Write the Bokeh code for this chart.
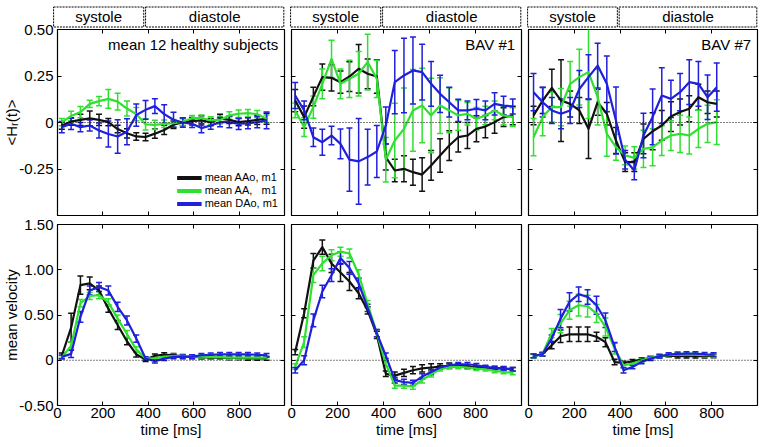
from bokeh.plotting import figure
from bokeh.layouts import row, column
from bokeh.models import (Range1d, FixedTicker, CustomJSTickFormatter, LinearAxis,
                          Whisker, TeeHead, ColumnDataSource, Span, Label,
                          Legend, LegendItem)
from bokeh.core.properties import value
from bokeh.embed import file_html
from bokeh.resources import INLINE
import numpy as np

FONT = "Liberation Sans"
C_AAO = "#111111"
C_AA = "#30e030"
C_DAO = "#1f1fdc"
COLORS = [C_AAO, C_AA, C_DAO]

series_names = ["mean AAo, m1", "mean AA,\u00a0\u00a0 m1", "mean DAo, m1"]
panel_titles = ["mean 12 healthy subjects", "BAV #1", "BAV #7"]
phases = ["systole", "diastole"]
phase_start = [-4, 396]
phase_end = [388, 997]
x_ticks = [0, 200, 400, 600, 800]
hel_ticks = [-0.25, 0, 0.25, 0.5]
vel_ticks = [-0.5, 0, 0.5, 1.0, 1.5]

# ---------- healthy (mean of 12) ----------
t_h = [19, 60, 101, 142, 183, 224, 265, 306, 347, 388, 429, 470, 511, 552, 593, 634, 675, 716, 757, 798, 839, 880, 921]
h_aao = [-0.016, 0.005, 0.014, 0.022, 0.014, 0.002, -0.035, -0.058, -0.075, -0.078, -0.06, -0.04, -0.012, 0.002, 0.007, 0.011, 0.002, 0.02, 0.014, 0.002, 0.007, 0.014, 0.02]
h_aa = [0.002, 0.035, 0.056, 0.1, 0.115, 0.127, 0.112, 0.075, 0.045, -0.01, -0.013, -0.007, -0.004, 0.005, 0.023, 0.025, 0.011, 0.014, 0.038, 0.047, 0.05, 0.045, 0.02]
h_dao = [-0.025, -0.007, -0.025, -0.016, -0.043, -0.062, -0.075, -0.05, 0.04, 0.068, 0.088, 0.045, 0.015, 0.0, -0.007, -0.03, -0.016, 0.002, 0.002, -0.007, -0.004, 0.002, 0.011]
h_aao_e = [0.02, 0.02, 0.03, 0.04, 0.03, 0.02, 0.02, 0.025, 0.02, 0.02, 0.025, 0.025, 0.02, 0.02, 0.02, 0.025, 0.02, 0.025, 0.02, 0.02, 0.02, 0.025, 0.03]
h_aa_e = [0.02, 0.025, 0.03, 0.02, 0.025, 0.05, 0.045, 0.04, 0.035, 0.03, 0.025, 0.02, 0.02, 0.02, 0.015, 0.015, 0.02, 0.02, 0.02, 0.02, 0.02, 0.02, 0.02]
h_dao_e = [0.03, 0.03, 0.025, 0.03, 0.04, 0.07, 0.09, 0.07, 0.06, 0.05, 0.04, 0.05, 0.04, 0.025, 0.02, 0.025, 0.02, 0.025, 0.03, 0.03, 0.03, 0.03, 0.045]

hv_aao = [0.05, 0.36, 0.83, 0.85, 0.77, 0.57, 0.39, 0.21, 0.066, 0.007, 0.05, 0.062, 0.055, 0.044, 0.037, 0.033, 0.03, 0.03, 0.025, 0.025, 0.02, 0.02, 0.02]
hv_aa = [0.03, 0.16, 0.63, 0.71, 0.72, 0.64, 0.46, 0.29, 0.12, 0.02, 0.02, 0.04, 0.045, 0.04, 0.04, 0.04, 0.035, 0.035, 0.03, 0.03, 0.03, 0.03, 0.03]
hv_dao = [0.037, 0.07, 0.48, 0.77, 0.81, 0.77, 0.59, 0.44, 0.24, 0.02, -0.01, 0.018, 0.037, 0.037, 0.04, 0.055, 0.06, 0.066, 0.066, 0.066, 0.066, 0.06, 0.055]
hv_aao_e = [0.03, 0.16, 0.1, 0.07, 0.05, 0.04, 0.05, 0.04, 0.03, 0.02, 0.02, 0.02, 0.02, 0.02, 0.02, 0.02, 0.02, 0.02, 0.02, 0.02, 0.02, 0.02, 0.02]
hv_aa_e = [0.02, 0.04, 0.04, 0.04, 0.04, 0.04, 0.04, 0.04, 0.03, 0.02, 0.02, 0.02, 0.02, 0.02, 0.02, 0.02, 0.02, 0.02, 0.02, 0.02, 0.02, 0.02, 0.02]
hv_dao_e = [0.02, 0.04, 0.06, 0.05, 0.05, 0.05, 0.05, 0.05, 0.04, 0.02, 0.02, 0.02, 0.02, 0.02, 0.02, 0.02, 0.02, 0.02, 0.02, 0.02, 0.02, 0.02, 0.02]

# ---------- BAV #1 ----------
t_b1 = [16, 55, 95, 134, 174, 213, 252, 292, 331, 371, 410, 449, 489, 528, 568, 607, 646, 686, 725, 765, 804, 843, 883, 922, 962]
b1_aao = [0.118, 0.029, 0.14, 0.244, 0.24, 0.217, 0.247, 0.289, 0.262, 0.247, -0.186, -0.258, -0.249, -0.267, -0.28, -0.231, -0.177, -0.124, -0.079, -0.07, -0.034, -0.022, 0.002, 0.029, 0.038]
b1_aa = [0.065, -0.025, 0.083, 0.208, 0.342, 0.208, 0.235, 0.262, 0.325, 0.235, -0.2, -0.097, -0.034, 0.065, 0.091, 0.038, 0.091, 0.065, 0.038, 0.047, 0.02, 0.038, 0.065, 0.038, 0.029]
b1_dao = [0.145, 0.065, -0.079, -0.106, -0.07, -0.115, -0.2, -0.209, -0.186, -0.156, -0.016, 0.217, 0.253, 0.28, 0.271, 0.208, 0.154, 0.109, 0.065, 0.065, 0.074, 0.065, 0.1, 0.091, 0.086]
b1_aao_e = [0.06, 0.06, 0.05, 0.07, 0.07, 0.06, 0.08, 0.13, 0.08, 0.09, 0.07, 0.06, 0.07, 0.07, 0.09, 0.08, 0.09, 0.08, 0.08, 0.07, 0.07, 0.06, 0.06, 0.05, 0.05]
b1_aa_e = [0.04, 0.05, 0.06, 0.08, 0.1, 0.08, 0.1, 0.12, 0.15, 0.1, 0.12, 0.2, 0.22, 0.22, 0.2, 0.2, 0.15, 0.12, 0.08, 0.06, 0.06, 0.05, 0.05, 0.05, 0.05]
b1_dao_e = [0.07, 0.05, 0.05, 0.07, 0.05, 0.08, 0.17, 0.23, 0.15, 0.14, 0.1, 0.17, 0.2, 0.18, 0.15, 0.12, 0.1, 0.08, 0.06, 0.05, 0.05, 0.05, 0.06, 0.05, 0.04]

b1v_aao = [0.09, 0.52, 1.1, 1.25, 1.07, 0.97, 0.87, 0.74, 0.55, 0.28, -0.15, -0.17, -0.14, -0.11, -0.09, -0.08, -0.07, -0.06, -0.06, -0.07, -0.08, -0.08, -0.09, -0.09, -0.1]
b1v_aa = [-0.07, 0.2, 0.94, 1.07, 1.16, 1.2, 1.18, 0.95, 0.62, 0.3, -0.04, -0.28, -0.28, -0.29, -0.22, -0.155, -0.1, -0.074, -0.074, -0.08, -0.092, -0.1, -0.118, -0.13, -0.14]
b1v_dao = [-0.11, 0.0, 0.44, 0.76, 0.94, 1.13, 1.02, 0.85, 0.58, 0.3, 0.05, -0.22, -0.24, -0.25, -0.18, -0.13, -0.08, -0.055, -0.044, -0.044, -0.055, -0.074, -0.085, -0.092, -0.1]
b1v_aao_e = [0.03, 0.05, 0.08, 0.08, 0.1, 0.1, 0.1, 0.06, 0.04, 0.04, 0.03, 0.04, 0.04, 0.04, 0.04, 0.04, 0.03, 0.03, 0.02, 0.02, 0.02, 0.02, 0.02, 0.02, 0.02]
b1v_aa_e = [0.03, 0.06, 0.08, 0.08, 0.06, 0.05, 0.05, 0.05, 0.04, 0.04, 0.03, 0.03, 0.03, 0.03, 0.03, 0.03, 0.02, 0.02, 0.02, 0.02, 0.02, 0.02, 0.02, 0.02, 0.02]
b1v_dao_e = [0.03, 0.05, 0.07, 0.07, 0.07, 0.07, 0.07, 0.06, 0.04, 0.04, 0.03, 0.03, 0.03, 0.03, 0.03, 0.03, 0.02, 0.02, 0.02, 0.02, 0.02, 0.02, 0.02, 0.02, 0.02]

# ---------- BAV #7 ----------
t_b7 = [22, 62, 102, 142, 182, 222, 262, 302, 342, 382, 422, 462, 502, 542, 582, 622, 662, 702, 742, 782, 822]
b7_aao = [0.038, 0.118, 0.186, 0.118, 0.1, 0.065, -0.034, 0.109, 0.047, -0.097, -0.213, -0.213, -0.088, -0.047, -0.016, 0.032, 0.056, 0.074, 0.136, 0.109, 0.1]
b7_aa = [-0.079, 0.029, 0.083, 0.083, 0.208, 0.244, 0.271, 0.136, -0.061, -0.133, -0.177, -0.19, -0.142, -0.133, -0.097, -0.07, -0.061, -0.07, -0.034, -0.007, 0.002]
b7_dao = [0.163, 0.109, 0.065, 0.047, 0.065, 0.18, 0.244, 0.306, 0.208, 0.011, -0.2, -0.258, -0.07, 0.03, 0.145, 0.127, 0.163, 0.217, 0.208, 0.136, 0.19]
b7_aao_e = [0.05, 0.07, 0.1, 0.22, 0.07, 0.07, 0.16, 0.07, 0.06, 0.07, 0.05, 0.05, 0.08, 0.1, 0.08, 0.08, 0.07, 0.07, 0.07, 0.06, 0.07]
b7_aa_e = [0.1, 0.1, 0.08, 0.1, 0.12, 0.15, 0.25, 0.15, 0.12, 0.07, 0.05, 0.06, 0.1, 0.1, 0.08, 0.08, 0.1, 0.1, 0.1, 0.1, 0.12]
b7_dao_e = [0.1, 0.08, 0.07, 0.08, 0.07, 0.1, 0.12, 0.12, 0.15, 0.18, 0.05, 0.05, 0.12, 0.15, 0.15, 0.1, 0.1, 0.12, 0.12, 0.12, 0.13]

t_b7v = [22, 61, 101, 140, 179, 219, 258, 297, 336, 376, 415, 454, 494, 533, 572, 612, 651, 690, 729, 769, 808]
b7v_aao = [0.048, 0.066, 0.166, 0.265, 0.287, 0.287, 0.287, 0.26, 0.2, -0.02, -0.03, -0.011, 0.007, 0.026, 0.044, 0.052, 0.044, 0.044, 0.044, 0.044, 0.048]
b7v_aa = [0.044, 0.066, 0.3, 0.405, 0.552, 0.608, 0.597, 0.516, 0.368, 0.129, -0.055, -0.037, 0.0, 0.03, 0.044, 0.055, 0.063, 0.063, 0.063, 0.055, 0.055]
b7v_dao = [0.048, 0.066, 0.24, 0.46, 0.645, 0.729, 0.7, 0.608, 0.442, 0.147, -0.11, -0.074, -0.018, 0.018, 0.044, 0.063, 0.07, 0.074, 0.074, 0.066, 0.063]
b7v_aao_e = [0.02, 0.02, 0.04, 0.07, 0.08, 0.08, 0.08, 0.05, 0.05, 0.03, 0.02, 0.02, 0.02, 0.02, 0.02, 0.02, 0.02, 0.02, 0.02, 0.02, 0.02]
b7v_aa_e = [0.02, 0.02, 0.05, 0.1, 0.1, 0.12, 0.12, 0.1, 0.1, 0.06, 0.03, 0.02, 0.02, 0.02, 0.02, 0.02, 0.02, 0.02, 0.02, 0.02, 0.02]
b7v_dao_e = [0.02, 0.02, 0.04, 0.1, 0.1, 0.08, 0.08, 0.1, 0.08, 0.05, 0.03, 0.02, 0.02, 0.02, 0.02, 0.02, 0.02, 0.02, 0.02, 0.02, 0.02]

# column geometry: (left border, frame width, right border)
COLS = [(54, 230, 3), (4, 230, 3), (4, 229, 5)]
X_END = 1000.0


def style_axis(ax, ticks, labels):
    ax.ticker = FixedTicker(ticks=ticks)
    ax.axis_line_color = None
    ax.major_tick_in = 4
    ax.major_tick_out = 0
    ax.major_tick_line_color = "black"
    ax.minor_tick_line_color = None
    if labels:
        ax.major_label_text_font = FONT
        ax.major_label_text_font_size = "15px"
        ax.major_label_text_color = "black"
    else:
        ax.formatter = CustomJSTickFormatter(code="return '';")
        ax.major_label_text_font_size = "0px"
        ax.major_label_standoff = 0


def header(col):
    lb, fw, rb = COLS[col]
    w = lb + fw + rb
    scale = fw / X_END
    p = figure(width=w, height=29,
               x_range=Range1d(-lb / scale, (fw + rb) / scale), y_range=Range1d(0, 29),
               output_backend="svg", toolbar_location=None,
               x_axis_location=None, y_axis_location=None,
               min_border_left=0, min_border_right=0, min_border_top=0, min_border_bottom=0)
    p.grid.visible = False
    p.outline_line_color = None
    p.background_fill_color = "white"
    p.border_fill_color = "white"
    p.quad(left=phase_start, right=phase_end, bottom=2.5, top=22.5,
           fill_color=None, line_color="black", line_width=1, line_dash="2 1")
    p.text(x=[(s + e) / 2 for s, e in zip(phase_start, phase_end)], y=[13, 13], text=phases,
           text_font=value(FONT), text_font_size="15px", text_align="center",
           text_baseline="middle", text_color="black")
    return p


def panel(col, top, t, ys, es, title=None, legend=False):
    lb, fw, rb = COLS[col]
    w = lb + fw + rb
    if top:
        h, tb, bb = 196, 8, 2
        yr = Range1d(-0.5, 0.5)
        yt_lab, yt_all = hel_ticks, [-0.5] + hel_ticks
    else:
        h, tb, bb = 228, 7, 40
        yr = Range1d(-0.5, 1.5)
        yt_lab = yt_all = vel_ticks
    p = figure(width=w, height=h, x_range=Range1d(0, X_END), y_range=yr,
               output_backend="svg", toolbar_location=None,
               min_border_left=lb, min_border_right=rb,
               min_border_top=tb, min_border_bottom=bb)
    p.grid.visible = False
    p.outline_line_color = "black"
    p.outline_line_width = 1.2
    p.background_fill_color = "white"
    p.border_fill_color = None if top else "white"

    xa = p.xaxis[0]
    ya = p.yaxis[0]
    style_axis(xa, x_ticks, not top)
    if not top:
        xa.major_label_standoff = 2
        xa.axis_label = "time [ms]"
        xa.axis_label_text_font = FONT
        xa.axis_label_text_font_size = "15px"
        xa.axis_label_text_font_style = "normal"
        xa.axis_label_text_color = "black"
        xa.axis_label_standoff = 0
    if col == 0:
        style_axis(ya, yt_lab, True)
        ya.formatter = CustomJSTickFormatter(code="return tick == 0 ? '0' : tick.toFixed(2);")
        ya.major_label_standoff = 4
        ya.axis_label = "<H\u1d63(t)>" if top else "mean velocity"
        ya.axis_label_text_font = FONT
        ya.axis_label_text_font_size = "15px"
        ya.axis_label_text_font_style = "normal"
        ya.axis_label_text_color = "black"
        ya.axis_label_standoff = -4
    else:
        style_axis(ya, yt_all, False)
    ra = LinearAxis()
    style_axis(ra, yt_all, False)
    p.add_layout(ra, "right")
    aa = LinearAxis()
    style_axis(aa, x_ticks, False)
    p.add_layout(aa, "above")

    p.add_layout(Span(location=0, dimension="width", line_color="black",
                      line_dash="1 2", line_width=1))

    for y, e, c in zip(ys, es, COLORS):
        y = np.array(y)
        e = np.array(e)
        src = ColumnDataSource(dict(t=t, lo=y - e, hi=y + e))
        p.add_layout(Whisker(source=src, base="t", upper="hi", lower="lo",
                             dimension="height", line_color=c, line_width=1.5,
                             upper_head=TeeHead(size=6, line_color=c, line_width=1.5),
                             lower_head=TeeHead(size=6, line_color=c, line_width=1.5)))
        p.line(t, y, line_color=c, line_width=2.2, line_join="round")

    if title:
        p.add_layout(Label(x=972, y=0.419, text=title, text_font=FONT,
                           text_font_size="15px", text_align="right",
                           text_baseline="middle", text_color="black"))
    if legend:
        items = []
        for name, c in zip(series_names, COLORS):
            r = p.line(x=[float("nan")], y=[float("nan")], line_color=c, line_width=4)
            items.append(LegendItem(label=name, renderers=[r]))
        leg = Legend(items=items, location="bottom_right", margin=6, padding=2,
                     spacing=1, glyph_width=25, glyph_height=11, label_height=11,
                     label_standoff=3, label_text_font=FONT, label_text_color="black",
                     label_text_font_size="11px", border_line_color=None,
                     background_fill_alpha=0)
        p.add_layout(leg)
    return p


h1, h2, h3 = header(0), header(1), header(2)
p1 = panel(0, True, t_h, [h_aao, h_aa, h_dao], [h_aao_e, h_aa_e, h_dao_e], panel_titles[0], legend=True)
p2 = panel(1, True, t_b1, [b1_aao, b1_aa, b1_dao], [b1_aao_e, b1_aa_e, b1_dao_e], panel_titles[1])
p3 = panel(2, True, t_b7, [b7_aao, b7_aa, b7_dao], [b7_aao_e, b7_aa_e, b7_dao_e], panel_titles[2])
q1 = panel(0, False, t_h, [hv_aao, hv_aa, hv_dao], [hv_aao_e, hv_aa_e, hv_dao_e])
q2 = panel(1, False, t_b1, [b1v_aao, b1v_aa, b1v_dao], [b1v_aao_e, b1v_aa_e, b1v_dao_e])
q3 = panel(2, False, t_b7v, [b7v_aao, b7v_aa, b7v_dao], [b7v_aao_e, b7v_aa_e, b7v_dao_e])

top_row = row(p1, p2, p3)
top_row.margin = (-8, 0, 0, 0)
layout = column(row(h1, h2, h3), top_row, row(q1, q2, q3))
open("out.html", "w").write(file_html(layout, INLINE))
